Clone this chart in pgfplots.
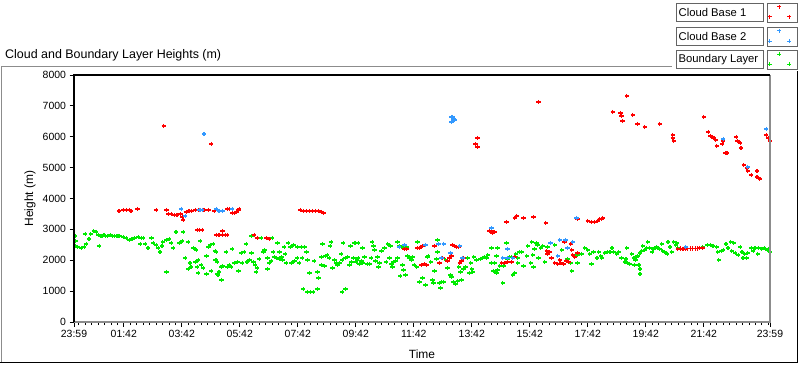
\documentclass[border=0pt]{standalone}
\usepackage{pgfplots}
\pgfplotsset{compat=1.18}
\usepackage{pgfplotstable}
\usepackage{fontspec}
\setmainfont{Liberation Sans}
\definecolor{cbone}{RGB}{255,0,0}
\definecolor{cbtwo}{RGB}{51,153,255}
\definecolor{blay}{RGB}{0,235,0}
\definecolor{framegray}{RGB}{140,140,140}
\definecolor{boxgray}{RGB}{100,100,100}

\pgfplotstableread{
t h
2 2786
4 2624
2 2462
8 2429
15 2397
21 2429
25 2526
23 2850
31 2688
35 2850
41 2947
46 2915
50 2818
54 2786
58 2786
62 2818
66 2786
70 2786
75 2818
79 2786
83 2786
87 2786
91 2786
95 2786
52 2462
102 2753
108 2721
114 2656
120 2688
126 2721
133 2753
139 2721
143 2721
137 2526
147 2526
153 2397
160 2721
164 2559
170 2494
174 2397
178 2267
182 2462
184 2591
191 2656
197 2688
201 2559
205 2397
211 2915
218 2559
224 2624
226 2915
236 2591
191 1620
247 2397
253 2332
261 2624
278 2429
282 2494
288 2526
292 2300
294 2008
274 2138
257 2008
263 1846
251 1943
240 1911
242 1781
236 1717
255 1781
267 1749
274 1555
257 1587
284 1652
296 1555
230 2073
294 2267
292 2008
296 1943
305 1781
307 1814
300 1620
298 1522
305 1360
315 2267
317 1781
321 1846
325 1781
327 2364
332 1911
338 1943
340 1652
346 2235
348 1911
352 2267
356 2526
358 1943
363 2008
367 2235
367 2786
371 1943
375 1846
377 1620
379 1749
383 2041
387 2721
392 2267
394 2332
400 1717
400 2073
404 1911
408 1976
410 2721
412 2267
414 2105
419 2073
421 2559
425 2267
425 2041
429 2105
431 2008
435 2429
437 2203
439 1911
443 2559
448 2429
450 1911
454 2494
456 1976
462 2429
462 2073
466 1911
470 2429
472 2073
477 2429
481 2267
483 2008
487 1587
497 1976
504 1620
506 1425
512 2105
514 2526
512 1846
518 1814
520 2138
524 2170
528 2073
530 2462
532 2591
535 1749
539 2008
543 1911
545 1846
549 1911
553 2203
555 2008
557 2559
562 2073
566 2105
570 1846
572 2462
574 1943
578 2073
580 2559
584 1943
588 2073
588 2559
474 1069
483 972
489 972
495 972
504 1069
555 972
562 1069
582 2559
597 2397
586 2008
591 1879
595 1976
597 1911
601 2105
607 1879
611 1879
615 2073
617 2591
620 2462
622 2332
624 1976
628 2105
630 1781
632 1911
636 2300
642 2397
646 1943
649 2526
653 2073
655 2462
657 1879
659 1781
661 1943
665 1976
669 2073
669 2591
673 2462
678 2429
675 1490
680 1846
682 1684
686 1522
688 2429
690 2138
694 2073
698 2008
700 2105
704 1846
709 1781
711 2591
715 1296
721 1425
727 1198
731 2105
733 2138
738 1943
742 1360
744 1263
746 1652
750 2041
752 2656
752 2267
756 1263
758 1101
760 1296
765 1296
769 2008
773 1749
779 1522
781 1458
785 1296
789 1231
794 1328
796 1781
800 1620
802 1360
806 1717
810 1781
814 2073
818 1587
821 1911
823 1717
825 1620
827 2105
833 2008
841 2041
845 2073
850 2105
854 2073
856 2170
864 2397
868 1652
874 2138
876 2397
870 1911
864 1911
874 1587
876 1684
881 1814
885 1911
889 1814
895 2559
897 2041
901 2105
905 2105
908 1522
912 1587
914 2203
918 1911
918 2073
922 2267
926 2267
930 1814
937 2138
939 2462
945 1911
947 2591
949 2170
951 1781
953 2364
957 2559
959 2494
961 2073
966 2397
970 2462
974 1943
980 2429
887 1263
995 2494
1009 2332
1021 2041
1028 1911
1030 1652
1042 2170
1042 1911
1050 2203
1057 2397
1063 2332
1067 2203
1071 1879
1075 2267
1082 2073
1086 2267
1090 2138
1092 2073
1098 2235
1104 2267
1109 2267
1113 2397
1117 2267
1123 2203
1127 2267
1133 2073
1140 1943
1142 2041
1144 2397
1146 1911
1150 1879
1154 2203
1158 2073
1160 1846
1162 2008
1164 2105
1166 2138
1169 1846
1171 1555
1171 1717
1171 2235
1175 2300
1177 2462
1181 2332
1185 2397
1187 2591
1191 2397
1196 2267
1198 2364
1202 2397
1206 2429
1208 2397
1212 2364
1216 2526
1218 2300
1222 2267
1227 2203
1229 2591
1233 2429
1237 2267
1241 2591
1245 2494
1247 2559
1249 2397
1301 2429
1310 2494
1316 2494
1322 2462
1330 2429
1332 2267
1334 2008
1339 2300
1343 2332
1349 2526
1353 2397
1359 2591
1361 2300
1365 2559
1368 2235
1374 2170
1378 2429
1382 2267
1384 2073
1388 2203
1392 2073
1394 2235
1401 2397
1405 2300
1409 2397
1415 2203
1417 2397
1423 2364
1428 2397
1434 2332
1436 2364
1440 2267
}\boundary

\pgfplotstableread{
t h
186 6348
284 5766
93 3595
102 3628
108 3628
114 3628
118 3595
131 3660
170 3628
191 3628
195 3498
201 3498
207 3466
213 3466
220 3498
224 3401
226 3304
232 3563
238 3595
244 3595
251 3628
257 3628
269 3628
278 3628
290 3595
296 3628
317 3660
321 3660
327 3531
332 3531
336 3563
340 3628
342 3660
255 2980
259 2980
265 2980
294 2818
300 2818
307 2818
313 2818
317 2818
307 2947
373 2818
379 2721
398 2721
404 2688
468 3628
474 3595
481 3595
487 3595
493 3595
499 3595
506 3595
512 3563
516 3531
961 7126
835 5960
831 5766
835 5668
866 2883
860 2947
895 3239
912 3369
916 3433
930 3369
951 3401
976 3207
684 2364
688 2364
711 2397
715 2397
721 2462
746 2462
765 2526
783 2494
787 2462
792 2429
796 2429
719 1846
725 1879
729 1846
756 1911
762 2073
773 1976
777 2073
781 2138
798 1911
802 1976
806 2073
864 2947
885 1911
891 1911
897 1943
905 1943
912 2105
978 2300
984 2267
988 2073
980 2203
995 1911
1001 1879
1007 1911
1013 1879
1005 2008
1015 2591
1028 2526
1030 2332
1036 2105
1042 2235
1032 2170
1024 1943
1019 1976
1042 3336
1063 3271
1071 3239
1077 3239
1084 3271
1088 3336
1092 3336
1094 3369
870 2915
1144 7320
1115 6802
1131 6770
1133 6672
1135 6510
1156 6705
1166 6413
1181 6316
1212 6413
1239 6057
1239 5960
1241 5863
1303 6640
1312 6154
1316 6025
1320 5992
1324 5960
1328 5895
1330 5701
1341 5766
1343 5863
1347 5474
1351 5474
1370 5992
1372 5863
1376 5830
1378 5798
1380 5636
1386 5085
1392 4988
1394 4891
1401 4761
1413 4891
1413 4697
1417 4664
1419 4632
1432 6057
1436 5960
1440 5863
1249 2364
1255 2380
1260 2364
1265 2364
1270 2380
1275 2380
1280 2380
1285 2380
1290 2380
1295 2397
1301 2397
}\cbaseone

\pgfplotstableread{
t h
269 6089
222 3660
230 3433
259 3628
261 3628
265 3628
294 3660
300 3595
307 3595
327 3660
783 6640
781 6640
787 6543
781 6478
785 6575
673 2429
684 2494
727 2494
754 2526
765 2526
798 2462
760 2073
779 2235
804 2073
864 3045
897 2364
897 2073
887 2073
908 2073
986 2559
1005 2656
1017 2656
1032 2591
1021 2397
1001 2138
1040 3369
1266 2429
1343 5927
1394 5020
1432 6251
}\cbasetwo

\begin{document}
\begin{tikzpicture}
\begin{scope}[x=1bp,y=1bp]
\useasboundingbox (0,0) rectangle (800,365);
\fill[white] (0,0) rectangle (800,365);
% outer frame
\draw[framegray, line width=1bp] (1,2.5) -- (1,299) -- (672,299);
\draw[black, line width=1bp] (0,2.5) -- (797.5,2.5) -- (797.5,294);
% title
\node[anchor=base west, inner sep=0, font=\fontsize{12.5}{14}\selectfont] at (5,307) {Cloud and Boundary Layer Heights (m)};
% legend
\foreach \yt/\lab/\col in {362/Cloud Base 1/cbone, 338/Cloud Base 2/cbtwo, 315/Boundary Layer/blay}{
  \draw[boxgray, line width=0.8bp, fill=white] (676,\yt-18.5) rectangle (763,\yt);
  \node[anchor=west, inner sep=0, font=\fontsize{11.3}{13}\selectfont] at (678.5,\yt-9.5) {\lab};
  \draw[boxgray, line width=0.8bp, fill=white] (767,\yt-19.5) rectangle (797,\yt);
  \draw[\col, line width=1bp] (777,\yt-4) -- (781,\yt-4) (779,\yt-2) -- (779,\yt-6);
  \draw[\col, line width=1bp] (767.5,\yt-14) -- (771.5,\yt-14) (769.5,\yt-12) -- (769.5,\yt-16);
  \draw[\col, line width=1bp] (787,\yt-14) -- (791,\yt-14) (789,\yt-12) -- (789,\yt-16);
}
\end{scope}
\begin{axis}[
  at={(74bp,43bp)}, anchor=south west,
  scale only axis, width=696bp, height=247bp,
  xmin=0, xmax=1440, ymin=0, ymax=8000,
  axis line style={draw=none},
  clip mode=individual,
  xtick={0,103,223,343,463,583,703,823,943,1063,1183,1303,1440},
  xticklabels={23:59,01:42,03:42,05:42,07:42,09:42,11:42,13:42,15:42,17:42,19:42,21:42,23:59},
  minor xtick={9.667,23,...,1440},
  ytick={0,1000,...,8000},
  xtick pos=bottom, ytick pos=left,
  tick align=outside,
  major tick length=4.5bp, minor tick length=3bp,
  tick style={black, line width=0.8bp},
  minor tick style={black, line width=0.7bp},
  scaled y ticks=false,
  /pgf/number format/1000 sep={},
  /pgf/number format/assume math mode=true,
  tick label style={font=\fontsize{10.5}{12}\selectfont},
  xlabel={Time}, ylabel={Height (m)},
  label style={font=\fontsize{12}{14}\selectfont},
  xlabel style={at={(axis description cs:0.5,0)}, anchor=center, yshift=-32bp},
  ylabel style={at={(axis description cs:0,0.5)}, anchor=center, rotate=0, yshift=44bp},
  every axis plot/.append style={only marks, mark=+, mark size=2.2pt, mark options={line width=1.1bp}},
]
\addplot[blay] table[x=t, y=h] {\boundary};
\addplot[cbone] table[x=t, y=h] {\cbaseone};
\addplot[cbtwo] table[x=t, y=h] {\cbasetwo};
\draw[framegray, line width=1.2bp] (rel axis cs:0,0) -- (rel axis cs:1,0) -- (rel axis cs:1,1);
\draw[black, line width=1.5bp] (rel axis cs:0,0) -- (rel axis cs:0,1) -- (rel axis cs:1,1);
\end{axis}
\end{tikzpicture}
\end{document}
